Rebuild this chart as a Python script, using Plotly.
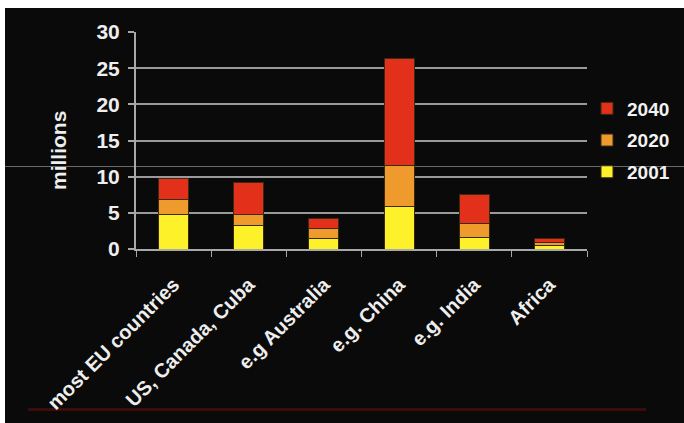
import plotly.graph_objects as go

categories = ["most EU countries", "US, Canada, Cuba", "e.g Australia", "e.g. China", "e.g. India", "Africa"]
# stacked segment values (millions)
seg_2001 = [4.8, 3.2, 1.4, 5.9, 1.6, 0.55]
seg_2020 = [2.0, 1.6, 1.5, 5.6, 1.9, 0.35]
seg_2040 = [3.0, 4.4, 1.3, 14.8, 4.0, 0.6]
y_ticks = [0, 5, 10, 15, 20, 25, 30]

FONT = "Liberation Sans, Arial, sans-serif"
W, H = 684, 423
L, R, T, B = 136, 97, 32, 174

fig = go.Figure()
for name, vals, col, rank in [("2001", seg_2001, "#fdf22a", 3),
                              ("2020", seg_2020, "#ee9a2c", 2),
                              ("2040", seg_2040, "#e2301a", 1)]:
    fig.add_trace(go.Bar(x=categories, y=vals, name=name, legendgroup=name, legendrank=rank,
                         marker=dict(color=col, line=dict(color="#3a2a10", width=1))))

pw = W - L - R
ph = H - T - B
def px(x):
    return (x - L) / pw
def py(y):
    return (H - B - y) / ph

shapes = [
    dict(type="line", xref="paper", yref="paper", x0=px(0), x1=px(W), y0=py(166.5), y1=py(166.5),
         line=dict(color="#6a6a6a", width=1), layer="below"),
    dict(type="line", xref="paper", yref="paper", x0=px(28), x1=px(646), y0=py(409.5), y1=py(409.5),
         line=dict(color="#3c0c0c", width=3), layer="below"),
]

strip = dict(text=" ", xref="paper", yref="paper", showarrow=False, bgcolor="#ffffff",
             borderpad=0, borderwidth=0, xanchor="left", yanchor="top", font=dict(size=1))

fig.update_layout(
    width=W, height=H,
    margin=dict(l=L, r=R, t=T, b=B, pad=0, autoexpand=False),
    barmode="stack",
    bargap=0.6,
    paper_bgcolor="#0a0a0a",
    plot_bgcolor="#0a0a0a",
    font=dict(family=FONT, color="#eeeeee", size=16),
    shapes=shapes,
    annotations=[
        dict(text="millions", xref="paper", yref="paper", x=px(58), y=py(151),
             xanchor="center", yanchor="middle", textangle=-90, showarrow=False,
             font=dict(size=21, family=FONT, color="#eeeeee", weight="bold")),
        dict(strip, x=px(0), y=py(0), width=W, height=8),
        dict(strip, x=px(0), y=py(0), width=5, height=H),
    ],
    legend=dict(x=1.0, xanchor="left", y=0.5, yanchor="middle",
                traceorder="grouped", tracegroupgap=4,
                font=dict(size=19, family=FONT, color="#f2f2f2", weight="bold"),
                bgcolor="rgba(0,0,0,0)", itemwidth=30),
    xaxis=dict(
        tickangle=-45,
        tickfont=dict(size=20, family=FONT, color="#eeeeee", weight="bold"),
        showline=True, linecolor="#a8a8a8", linewidth=2,
        ticks="outside", ticklen=6, tickcolor="#a8a8a8", tickwidth=1,
        tickson="boundaries",
        ticklabelstandoff=14,
        showgrid=False,
        automargin=False,
    ),
    yaxis=dict(
        range=[0, 30],
        tickvals=y_ticks,
        tickfont=dict(size=21, family=FONT, color="#eeeeee", weight="bold"),
        showline=True, linecolor="#a8a8a8", linewidth=2,
        ticks="outside", ticklen=6, tickcolor="#a8a8a8", tickwidth=2,
        ticklabelstandoff=4,
        showgrid=True, gridcolor="#9a9a9a", gridwidth=2,
        zeroline=False,
        automargin=False,
    ),
)

fig.write_html("out.html")
